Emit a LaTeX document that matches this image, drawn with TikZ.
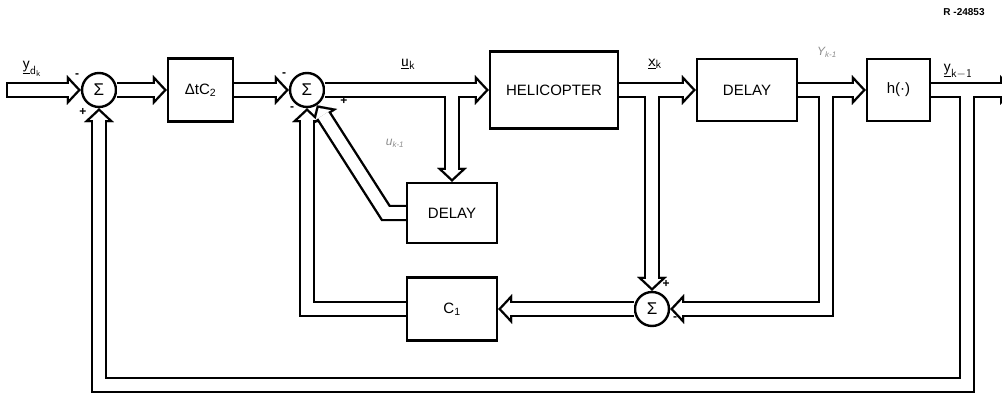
\documentclass[tikz,border=0pt]{standalone}
\usepackage{fontspec}
\setmainfont{Liberation Sans}
\usetikzlibrary{arrows.meta,calc}
\pgfdeclarelayer{bk}
\pgfsetlayers{bk,main}
% a bus: black body below, white core on top
\newcommand\bus[2][]{%
  \begin{pgfonlayer}{bk}\draw[busk] #2;\end{pgfonlayer}
  \draw[busw,#1] #2;}

\begin{document}
\begin{tikzpicture}[x=1pt,y=-1pt,font=\fontsize{15}{18}\selectfont,
   blk/.style={draw,line width=2.4pt,inner sep=0pt},
   sum/.style={draw,circle,line width=2.4pt,minimum size=34pt,inner sep=0pt,
               font=\fontsize{17}{20}\selectfont},
   busk/.style={line width=16.4pt,-{Triangle[length=14pt,width=30pt,line width=0.01pt]}},
   busw/.style={white,line width=11.6pt,shorten >=3.28pt,
                -{Triangle[length=8.32pt,width=17.8pt,line width=0.01pt]}},
   sg/.style={font=\fontsize{12}{12}\selectfont\bfseries},
   lbl/.style={font=\fontsize{17}{19}\selectfont},
   note/.style={black!45,font=\fontsize{12}{14}\selectfont\itshape}]
  \useasboundingbox (0,0) rectangle (1002,393);
  % blocks and summers
  \node[sum] (s1) at (99,90) {Σ};
  \node[blk,minimum width=65pt,minimum height=63pt] (dc2) at (200.5,90) {ΔtC\textsubscript{2}};
  \node[sum] (s2) at (307,90) {Σ};
  \node[blk,minimum width=128pt,minimum height=77pt] (heli) at (554,90) {HELICOPTER};
  \node[blk,minimum width=100pt,minimum height=62pt] (dly1) at (747,90) {DELAY};
  \node[blk,minimum width=63pt,minimum height=62pt] (hfun) at (898.5,90) {h(·)};
  \node[blk,minimum width=90pt,minimum height=60pt] (dly2) at (452,213) {DELAY};
  \node[blk,minimum width=90pt,minimum height=63pt] (cone) at (452,309) {C\textsubscript{1}};
  \node[sum] (s3) at (652,309) {Σ};
  % junctions and ends
  \coordinate (in) at (6,90);
  \coordinate (ju) at (452,90);
  \coordinate (jx) at (652,90);
  \coordinate (jy) at (826,90);
  \coordinate (jo) at (967,90);
  \coordinate (out) at (1014,90);
  \coordinate (fb) at (99,385);
  % forward path
  \bus[shorten <=2.4pt]{(in) -- (s1.west)}
  \bus{(s1) -- (dc2)}
  \bus{(dc2) -- (s2)}
  \bus{(s2) -- (heli)}
  \bus{(heli) -- (dly1)}
  \bus{(dly1) -- (hfun)}
  \bus{(hfun) -- (out)}
  % branches
  \bus{(ju) -- (dly2.north)}
  \bus{(jx) -- (s3.north)}
  \bus{(jy) |- (s3.east)}
  \bus{(jo) |- (fb) -- (s1.south)}
  % inner loops
  \bus{(dly2.west) -- ++(-20,0) -- (s2.-57)}
  \bus{(cone.west) -| (s2.south)}
  \bus{(s3) -- (cone)}
  % signs
  \node[sg] at (77,76) {-};
  \node[sg] at (83,112) {+};
  \node[sg] at (284,75) {-};
  \node[sg] at (292,109) {-};
  \node[sg] at (344,101) {+};
  \node[sg] at (666,284) {+};
  \node[sg] at (675,319) {-};
  % labels
  \node[lbl] at (32,69) {$\underline{\mathsf{y}}_{\mathsf{d_k}}$};
  \node[lbl] at (408,64) {$\underline{\mathsf{u}}_{\mathsf{k}}$};
  \node[lbl] at (655,64) {$\underline{\mathsf{x}}_{\mathsf{k}}$};
  \node[lbl] at (958,71) {$\underline{\mathsf{y}}_{\mathsf{k-1}}$};
  \node[font=\fontsize{10}{12}\selectfont\bfseries] at (964,12) {R -24853};
  \node[note] at (827,52) {Y\textsubscript{k-1}};
  \node[note] at (395,143) {u\textsubscript{k-1}};
\end{tikzpicture}
\end{document}
